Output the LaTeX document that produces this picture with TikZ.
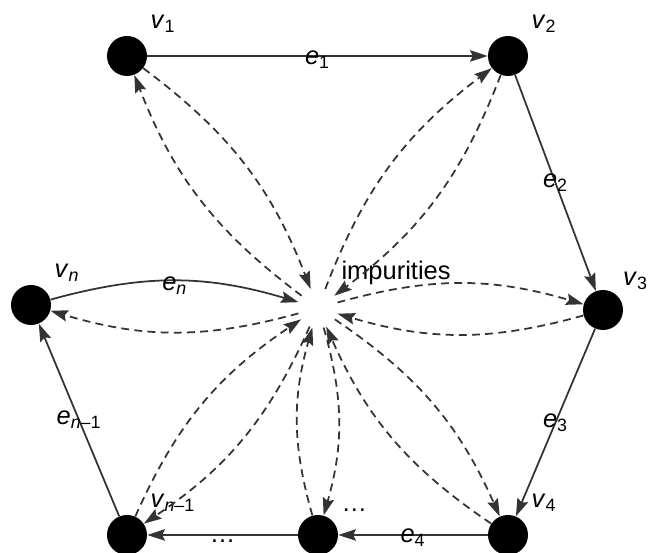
\documentclass[tikz,border=0pt]{standalone}
\usepackage{fontspec}
\setmainfont{Liberation Sans}
\usetikzlibrary{arrows.meta}

\newcommand{\vlab}[1]{\textit{v}\textsubscript{#1}}
\newcommand{\elab}[1]{\textit{e}\textsubscript{#1}}

\begin{document}
\begin{tikzpicture}[x=0.02cm, y=0.02cm,
    font=\fontsize{14.5}{17}\selectfont,
    vertex/.style={circle, fill=black, minimum size=0.8cm, inner sep=0pt},
    hub/.style={circle, minimum size=0.8cm, inner sep=0pt},
    tag/.style={inner sep=0pt, label distance=0.25cm},
    arrow/.style={-{Stealth[length=10pt, width=6.5pt, inset=1.5pt]}, line width=1pt, draw=black!80},
    flow/.style={arrow, dash pattern=on 4.5pt off 3pt, bend left=16},
    elabel/.style={inner sep=1pt}
  ]
    \useasboundingbox (0,0) rectangle (650,553);

    \node[vertex, label={[tag]above right:\vlab{1}}] (v1) at (127,497) {};
    \node[vertex, label={[tag]above right:\vlab{2}}] (v2) at (508,497) {};
    \node[vertex, label={[tag, label distance=0.15cm]above right:\vlab{3}}] (v3) at (603,243) {};
    \node[vertex, label={[tag]above right:\vlab{4}}] (v4) at (508,18) {};
    \node[vertex, label={[tag]above right:\dots}] (vd) at (318,18) {};
    \node[vertex, label={[tag]above right:\vlab{\textit{n}–1}}] (vm) at (127,18) {};
    \node[vertex, label={[tag]above right:\vlab{\textit{n}}}] (vn) at (31,248) {};
    \node[hub, label={[tag]above right:impurities}] (imp) at (318,245) {};

    % cycle
    \draw[arrow] (v1) -- node[elabel, yshift=-0.08cm]{\elab{1}} (v2);
    \draw[arrow] (v2) -- node[elabel]{\elab{2}} (v3);
    \draw[arrow] (v3) -- node[elabel]{\elab{3}} (v4);
    \draw[arrow] (v4) -- node[elabel, yshift=-0.06cm]{\elab{4}} (vd);
    \draw[arrow] (vd) -- node[elabel, yshift=-0.12cm]{\dots} (vm);
    \draw[arrow] (vm) -- node[elabel]{\elab{\textit{n}–1}} (vn);
    \draw[arrow, bend left=16] (vn) to node[elabel, yshift=-0.1cm]{\elab{\textit{n}}} (imp);

    % impurities
    \draw[flow] (imp) to (v1);
    \draw[flow] (v1) to (imp);
    \draw[flow] (imp) to (v2);
    \draw[flow] (v2) to (imp);
    \draw[flow] (imp) to (v3);
    \draw[flow] (v3) to (imp);
    \draw[flow] (imp) to (v4);
    \draw[flow] (v4) to (imp);
    \draw[flow] (imp) to (vd);
    \draw[flow] (vd) to (imp);
    \draw[flow] (imp) to (vm);
    \draw[flow] (vm) to (imp);
    \draw[flow] (imp) to (vn);
\end{tikzpicture}
\end{document}
